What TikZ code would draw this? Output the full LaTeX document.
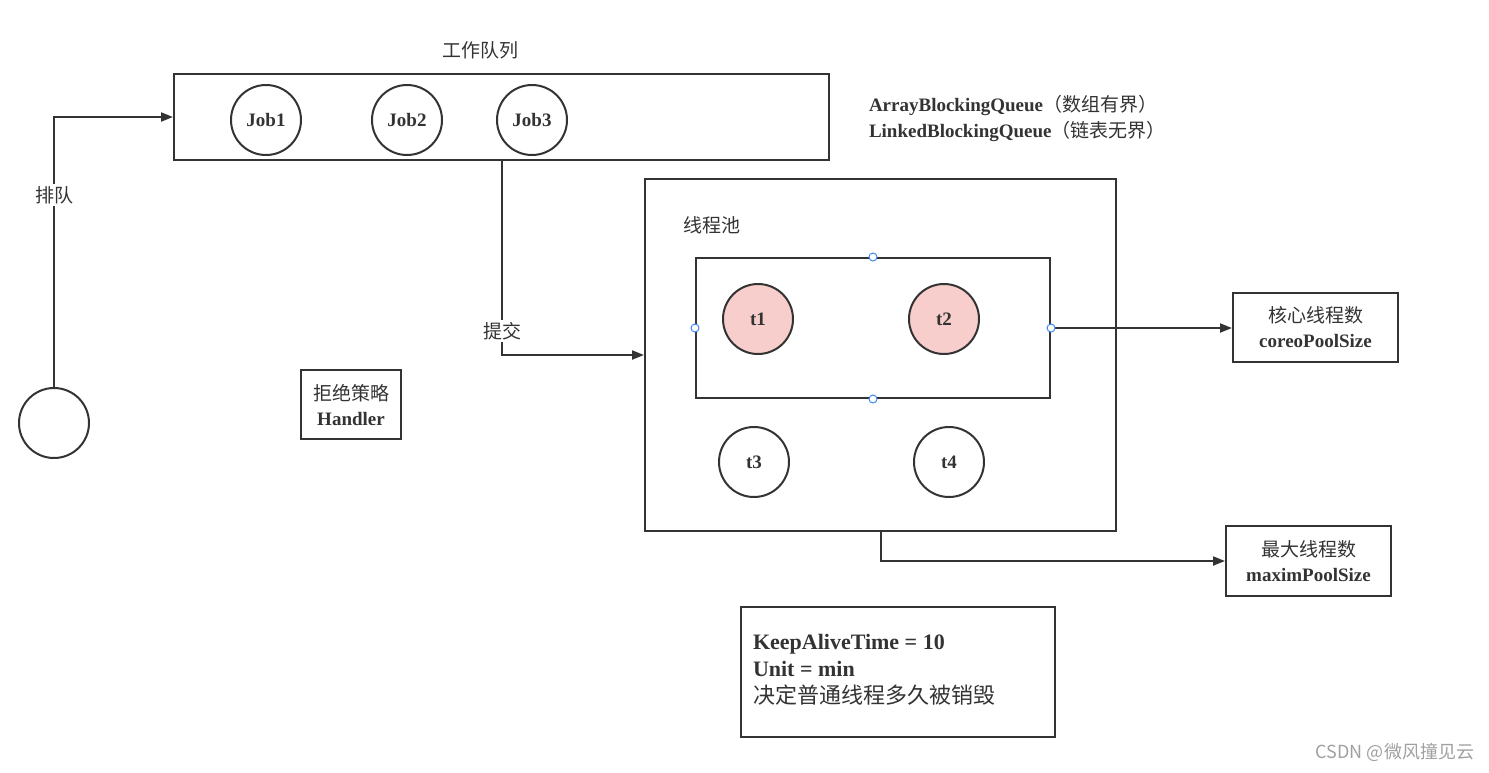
\documentclass[tikz,border=0pt]{standalone}
\usepackage{fontspec}
\setmainfont{Liberation Serif}
\newfontfamily\cjk{Noto Sans CJK SC}
\usetikzlibrary{arrows.meta}
\definecolor{lc}{HTML}{333333}
\definecolor{pinkfill}{HTML}{F8CECC}
\definecolor{handle}{HTML}{3F86F5}
\definecolor{wm}{HTML}{A0A0A0}
\begin{document}
\begin{tikzpicture}[x=0.5pt,y=-0.5pt,line width=1pt,
  box/.style={draw=lc,rectangle,inner sep=0pt,text=lc,align=center},
  thread/.style={draw=lc,circle,minimum size=35pt,inner sep=0pt,text=lc,font=\bfseries\fontsize{9.5}{11}\selectfont},
  arr/.style={draw=lc,-{Triangle[length=6pt,width=4.5pt]}},
  lab/.style={text=lc,font=\cjk\fontsize{9.5}{12}\selectfont,inner sep=1pt},
  hnd/.style={draw=handle,fill=white,circle,line width=0.5pt,minimum size=4pt,inner sep=0pt},
  txt/.style={text=lc,inner sep=0pt}]
\useasboundingbox (0,0) rectangle (1489,772);
% boxes
\node[box,minimum width=327.5pt,minimum height=43pt] (queue) at (501.5,117) {};
\node[box,minimum width=235.5pt,minimum height=176pt] (pool) at (880.5,355) {};
\node[box,minimum width=177pt,minimum height=70pt] (inner) at (873,328) {};
\node[box,minimum width=82.5pt,minimum height=34.5pt,font=\fontsize{9.5}{12.5}\selectfont] (core) at (1315.5,327.5) {{\cjk 核心线程数}\\\textbf{coreoPoolSize}};
\node[box,minimum width=82.5pt,minimum height=35pt,font=\fontsize{9.5}{12.5}\selectfont] (max) at (1308.5,561) {{\cjk 最大线程数}\\\textbf{maximPoolSize}};
\node[box,minimum width=50pt,minimum height=34.5pt,font=\fontsize{9.5}{12.5}\selectfont] (handler) at (351,404.5) {{\cjk 拒绝策略}\\\textbf{Handler}};
\node[box,minimum width=157pt,minimum height=65pt] (keep) at (898,672) {};
\node[txt,anchor=west,align=left,font=\fontsize{11}{13.5}\selectfont] (keeptxt) at (752,670) {\textbf{KeepAliveTime = 10}\\\textbf{Unit = min}\\{\cjk 决定普通线程多久被销毁}};
% jobs
\node[thread] (job1) at (266,120) {Job1};
\node[thread] (job2) at (407,120) {Job2};
\node[thread] (job3) at (532,120) {Job3};
% threads
\node[thread,fill=pinkfill] (t1) at (758,319) {t1};
\node[thread,fill=pinkfill] (t2) at (944,319) {t2};
\node[thread] (t3) at (754,462) {t3};
\node[thread] (t4) at (949,462) {t4};
% start circle
\node[draw=lc,circle,minimum size=35pt,inner sep=0pt] (start) at (54,423) {};
% titles
\node[lab] (qtitle) at (480,50) {工作队列};
\node[lab] (ptitle) at (712,225) {线程池};
\node[txt,anchor=west,align=left,font=\fontsize{9.5}{13}\selectfont] (qtypes) at (868,118) {\textbf{ArrayBlockingQueue}{\cjk （数组有界）}\\\textbf{LinkedBlockingQueue}{\cjk （链表无界）}};
% connectors
\draw[arr] (start.north) |- (queue.west);
\node[lab,fill=white] (enq) at (54,195) {排队};
\draw[arr] (queue.south) |- (pool.west);
\node[lab,fill=white] (sub) at (502,331) {提交};
\draw[arr] (inner.east) -- (inner.east -| core.west);
\draw[arr] (pool.south) |- (max.west);
% handles
\node[hnd] (hn) at (inner.north) {};
\node[hnd] (hs) at (inner.south) {};
\node[hnd] (hw) at (inner.west) {};
\node[hnd] (he) at (inner.east) {};
% watermark
\node[anchor=east,text=wm,inner sep=0pt,font=\cjk\fontsize{9}{11}\selectfont] (mark) at (1475,752) {CSDN @微风撞见云};
\end{tikzpicture}
\end{document}
